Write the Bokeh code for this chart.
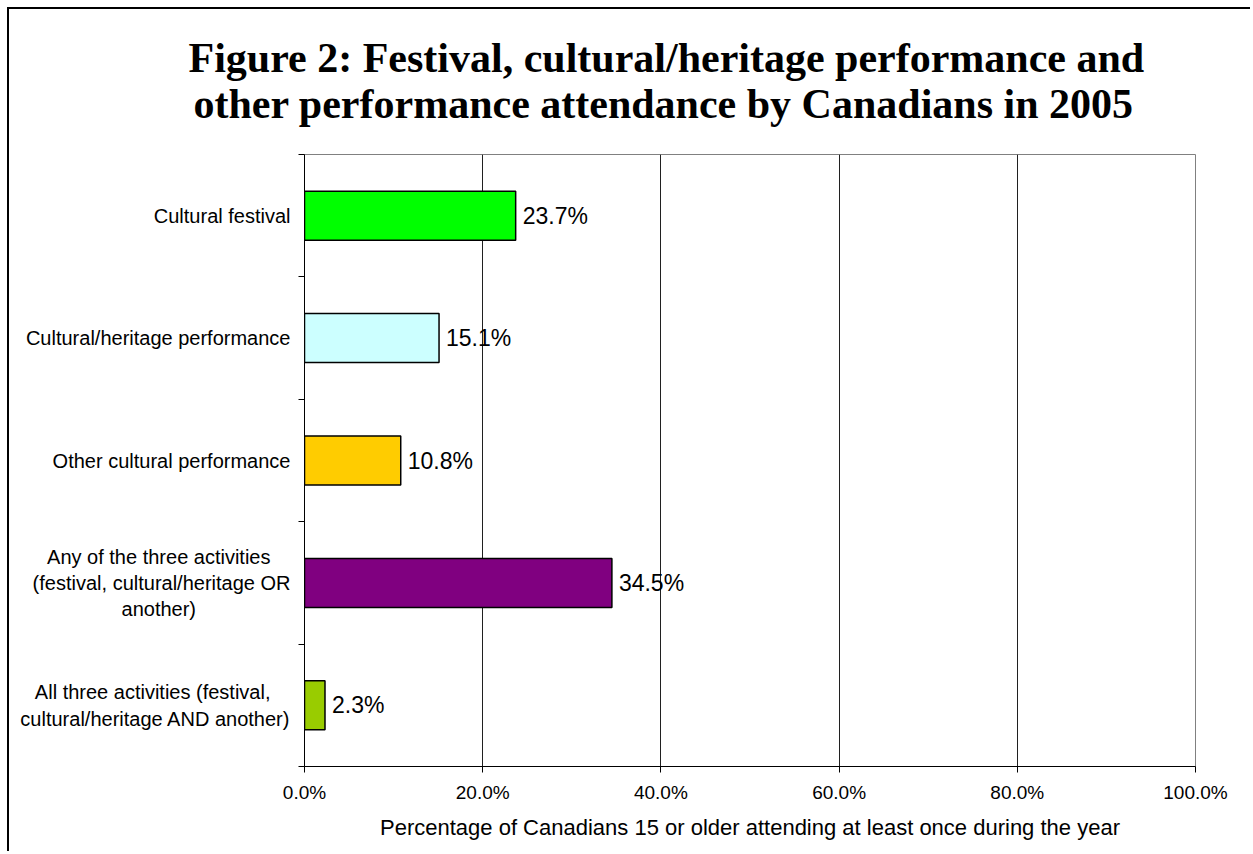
from bokeh.plotting import figure
from bokeh.models import Range1d, FixedTicker, PrintfTickFormatter, Title, ColumnDataSource
from bokeh.embed import file_html
from bokeh.resources import INLINE
from bokeh.core.properties import value

# Data (top to bottom)
categories = [
    "Cultural festival",
    "Cultural/heritage performance",
    "Other cultural performance",
    "Any of the three activities\u2002\u2002\n(festival, cultural/heritage OR\nanother)" + " " * 17,
    "All three activities (festival,\u2002\u2002\ncultural/heritage AND another)",
]
values = [23.7, 15.1, 10.8, 34.5, 2.3]
colors = ["#00FF00", "#CCFFFF", "#FFCC00", "#800080", "#99CC00"]
x_ticks = [0, 20, 40, 60, 80, 100]
title_lines = ["Figure 2: Festival, cultural/heritage performance and",
               "other performance attendance by Canadians in 2005"]
x_label = "Percentage of Canadians 15 or older attending at least once during the year"

n = len(categories)
ypos = [n - 0.5 - i for i in range(n)]
labels = [f"{v:.1f}%" for v in values]

src = ColumnDataSource(dict(y=ypos, v=values, c=colors, lab=labels))

p = figure(width=1243, height=844, output_backend="svg", toolbar_location=None,
           x_range=Range1d(0, 100), y_range=Range1d(0, n),
           min_border_left=295, min_border_top=145, min_border_bottom=87, min_border_right=57)
p.styles = {"margin-left": "7px", "margin-top": "7px",
            "border-left": "2px solid black", "border-top": "2px solid black"}

p.hbar(y="y", left=0, right="v", height=0.4, fill_color="c", line_color="black",
       line_width=1.5, source=src)
p.text(x="v", y="y", text="lab", x_offset=7, text_baseline="middle", text_align="left",
       text_font=value("Liberation Sans"), text_font_size="23px", text_color="black", source=src)

# axes
p.xaxis.ticker = FixedTicker(ticks=x_ticks)
p.xaxis.formatter = PrintfTickFormatter(format="%.1f%%")
p.xaxis.major_tick_out = 6
p.xaxis.major_tick_in = 0
p.xaxis.minor_tick_out = 0
p.xaxis.minor_tick_in = 0
p.xaxis.axis_line_color = "black"
p.xaxis.major_label_text_font = "Liberation Sans"
p.xaxis.major_label_text_font_size = "19px"
p.xaxis.major_label_text_color = "black"
p.xaxis.major_label_standoff = 9
p.xaxis.axis_label = x_label
p.xaxis.axis_label_text_font = "Liberation Sans"
p.xaxis.axis_label_text_font_size = "22px"
p.xaxis.axis_label_text_font_style = "normal"
p.xaxis.axis_label_text_color = "black"
p.xaxis.axis_label_standoff = 9

p.yaxis.ticker = FixedTicker(ticks=ypos, minor_ticks=list(range(n + 1)))
p.yaxis.major_label_overrides = {y: c for y, c in zip(ypos, categories)}
p.yaxis.major_tick_out = 0
p.yaxis.major_tick_in = 0
p.yaxis.minor_tick_out = 6
p.yaxis.minor_tick_in = 0
p.yaxis.axis_line_color = "black"
p.yaxis.major_label_text_font = "Liberation Sans"
p.yaxis.major_label_text_font_size = "20px"
p.yaxis.major_label_text_color = "black"
p.yaxis.major_label_text_line_height = 1.2
p.yaxis.major_label_standoff = 8

p.ygrid.grid_line_color = None
p.xgrid.grid_line_color = "#202020"
p.xgrid.grid_line_width = 1
p.outline_line_color = "#808080"
p.outline_line_width = 1

# title: two lines, added nearest-first
for txt, off, so in [(title_lines[1], -111, 56), (title_lines[0], -116, -61)]:
    p.add_layout(Title(text=txt, align="left", offset=off, standoff=so,
                       text_font="Liberation Serif", text_font_style="bold",
                       text_font_size="42px", text_color="black"), "above")

open("out.html", "w").write(file_html(p, INLINE))
